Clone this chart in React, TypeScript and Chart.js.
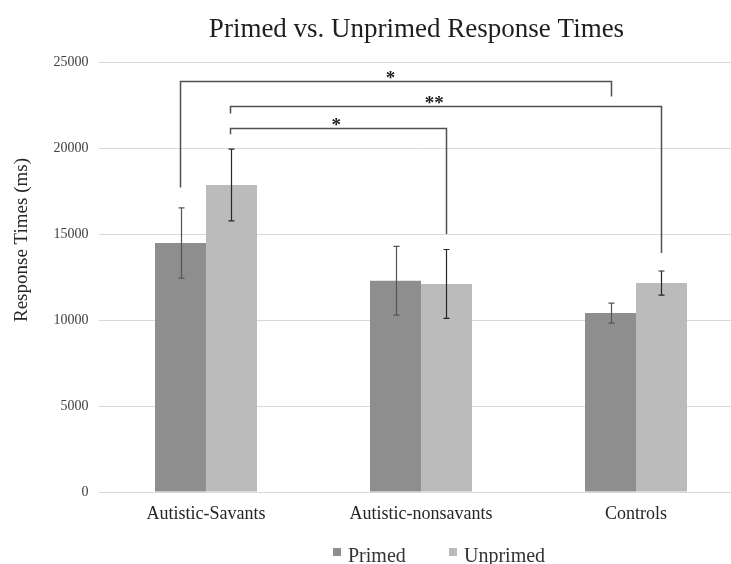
import React, { useEffect, useRef } from "react";
import { Chart, registerables } from "chart.js";

Chart.register(...registerables);

const categories = ["Autistic-Savants", "Autistic-nonsavants", "Controls"];
const seriesNames = ["Primed", "Unprimed"];
const primed = [14480, 12280, 10400];
const unprimed = [17850, 12100, 12150];
const primedErr = [2040, 2000, 580];
const unprimedErr = [2090, 2000, 700];
const seriesColors = ["#8e8e8e", "#bbbbbb"];
const errColors = ["#555555", "#262626"];
const yTicks = [0, 5000, 10000, 15000, 20000, 25000];

// significance brackets
const bracketStartCat = [0, 0, 0];
const bracketStartSeries = [0, 1, 1];
const bracketEndCat = [2, 2, 1];
const bracketEndSeries = [0, 1, 1];
const bracketLevel = [23900, 22450, 21150];
const bracketStartDrop = [17700, 22000, 20800];
const bracketEndDrop = [23000, 13900, 15000];
const bracketLabel = ["*", "**", "*"];
const bracketLabelPos = [0.487, 0.473, 0.49];

const titleText = "Primed vs. Unprimed Response Times";
const yTitleText = "Response Times (ms)";
const SERIF = "'Liberation Serif', 'Times New Roman', serif";

const overlayPlugin = {
  id: "overlay",
  afterDatasetsDraw(chart: any) {
    const ctx = chart.ctx;
    const y = chart.scales.y;
    const errs = [primedErr, unprimedErr];
    ctx.save();
    // error bars
    for (let d = 0; d < 2; d++) {
      const meta = chart.getDatasetMeta(d);
      const vals = chart.data.datasets[d].data;
      meta.data.forEach((bar: any, i: number) => {
        const x = Math.round(bar.x) + 0.5;
        const top = y.getPixelForValue(vals[i] + errs[d][i]);
        const bot = y.getPixelForValue(vals[i] - errs[d][i]);
        ctx.strokeStyle = errColors[d];
        ctx.lineWidth = 1.2;
        ctx.beginPath();
        ctx.moveTo(x, top);
        ctx.lineTo(x, bot);
        ctx.moveTo(x - 3, top);
        ctx.lineTo(x + 3, top);
        ctx.moveTo(x - 3, bot);
        ctx.lineTo(x + 3, bot);
        ctx.stroke();
      });
    }
    // brackets
    ctx.strokeStyle = "#505050";
    ctx.lineWidth = 1.5;
    for (let b = 0; b < bracketLevel.length; b++) {
      const x1 = Math.round(chart.getDatasetMeta(bracketStartSeries[b]).data[bracketStartCat[b]].x) - 0.5;
      const x2 = Math.round(chart.getDatasetMeta(bracketEndSeries[b]).data[bracketEndCat[b]].x) + 0.5;
      const yl = Math.round(y.getPixelForValue(bracketLevel[b])) + 0.5;
      const y1 = y.getPixelForValue(bracketStartDrop[b]);
      const y2 = y.getPixelForValue(bracketEndDrop[b]);
      ctx.beginPath();
      ctx.moveTo(x1, y1);
      ctx.lineTo(x1, yl);
      ctx.lineTo(x2, yl);
      ctx.lineTo(x2, y2);
      ctx.stroke();
      ctx.fillStyle = "#1e1e1e";
      ctx.font = `bold 19px ${SERIF}`;
      ctx.textAlign = "center";
      ctx.textBaseline = "alphabetic";
      ctx.fillText(bracketLabel[b], x1 + (x2 - x1) * bracketLabelPos[b], yl + 2);
    }
    ctx.restore();
  },
  afterDraw(chart: any) {
    const ctx = chart.ctx;
    ctx.save();
    // title
    ctx.fillStyle = "#1e1e1e";
    ctx.font = `27px ${SERIF}`;
    ctx.textAlign = "center";
    ctx.textBaseline = "middle";
    ctx.fillText(titleText, 416.5, 30);
    // y title
    ctx.save();
    ctx.translate(22, 240);
    ctx.rotate(-Math.PI / 2);
    ctx.font = `19px ${SERIF}`;
    ctx.fillStyle = "#262626";
    ctx.fillText(yTitleText, 0, 0);
    ctx.restore();
    // legend
    ctx.font = `20px ${SERIF}`;
    ctx.textAlign = "left";
    ctx.textBaseline = "alphabetic";
    const legendX = [333, 449];
    for (let d = 0; d < 2; d++) {
      ctx.fillStyle = seriesColors[d];
      ctx.fillRect(legendX[d], 548, 8, 8);
      ctx.fillStyle = "#333333";
      ctx.fillText(seriesNames[d], legendX[d] + 15, 562);
    }
    ctx.restore();
  },
};

export default function App() {
  const ref = useRef<HTMLCanvasElement | null>(null);
  useEffect(() => {
    if (!ref.current) return;
    const chart = new Chart(ref.current, {
      type: "bar",
      data: {
        labels: categories,
        datasets: [
          { label: seriesNames[0], data: primed, backgroundColor: seriesColors[0] },
          { label: seriesNames[1], data: unprimed, backgroundColor: seriesColors[1] },
        ],
      },
      options: {
        responsive: false,
        animation: false,
        devicePixelRatio: 1,
        layout: { padding: { left: 0, right: 16.5, top: 62, bottom: 32 } },
        datasets: { bar: { categoryPercentage: 0.4744, barPercentage: 1 } },
        plugins: { legend: { display: false }, tooltip: { enabled: false }, title: { display: false } },
        scales: {
          x: {
            grid: { display: false, drawTicks: false },
            border: { display: false },
            ticks: { color: "#262626", font: { family: SERIF, size: 18 }, padding: 11 },
            afterFit: (s: any) => { s.height = 40; },
          },
          y: {
            min: 0,
            max: 25000,
            afterBuildTicks: (s: any) => { s.ticks = yTicks.map((v) => ({ value: v })); },
            grid: { color: "#d9d9d9", drawTicks: false, lineWidth: 1 },
            border: { display: false },
            ticks: {
              color: "#404040",
              font: { family: SERIF, size: 14 },
              padding: 10,
              callback: (v: any) => String(v),
            },
            afterFit: (s: any) => { s.width = 98.5; },
          },
        },
      },
      plugins: [overlayPlugin],
    });
    return () => chart.destroy();
  }, []);
  return (
    <div style={{ position: "fixed", left: 0, top: 0, width: 731, height: 564, overflow: "hidden", background: "#fff" }}>
      <canvas ref={ref} width={760} height={564} style={{ width: 760, height: 564, display: "block" }} />
    </div>
  );
}
